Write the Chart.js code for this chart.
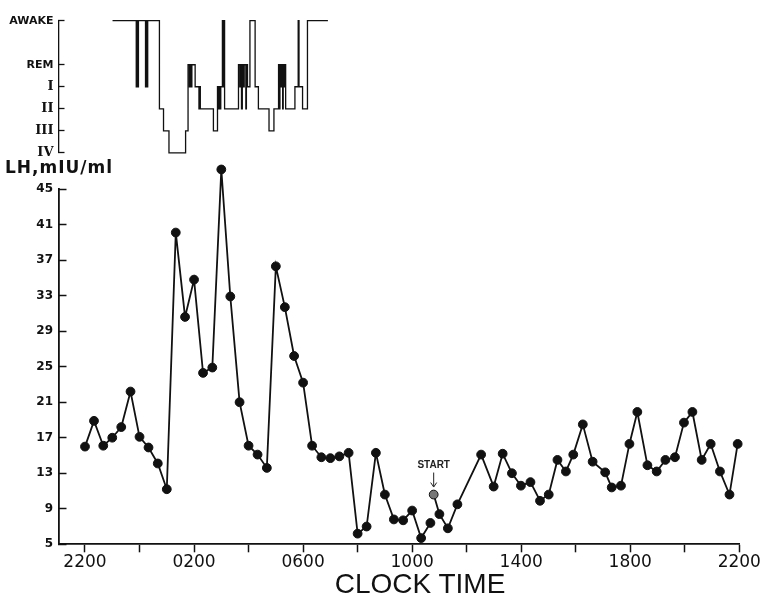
<!DOCTYPE html>
<html><head><meta charset="utf-8">
<script src="https://cdn.jsdelivr.net/npm/chart.js@4"></script>
<style>
html,body{margin:0;padding:0;background:#fff;}
#wrap{position:relative;width:762px;height:600px;}
canvas{position:absolute;left:0;top:0;}
.lbl{position:absolute;color:#111;white-space:nowrap;}
#ylab{left:5px;top:157px;font:bold 17px/20px "DejaVu Sans";letter-spacing:1px;}
#xlab{left:420px;top:570px;transform:translateX(-50%);font:28px/28px "Liberation Sans";}
</style></head>
<body><div id="wrap"><canvas id="c" width="762" height="600"></canvas>
<div id="ylab" class="lbl">LH,mIU/ml</div><div id="xlab" class="lbl">CLOCK TIME</div></div>
<script>
// ---- axis ticks / labels ----
const clockLabels = ['2200','0200','0600','1000','1400','1800','2200'];
const majorHours = [0,4,8,12,16,20,24];
const tickHours = [0,2,4,6,8,10,12,14,16,18,20,22,24];
const lhTicks = [5,9,13,17,21,25,29,33,37,41,45];
const stageValues = [0,1,2,3,4,6];
const stageLabels = ['IV','III','II','I','REM','AWAKE'];

// ---- LH series (hours after 2200) ----
const nightHours = [0,0.33,0.67,1,1.33,1.67,2,2.33,2.67,3,3.33,3.67,4,4.33,4.67,5,5.33,5.67,6,6.33,6.67,7,7.33,7.67,8,8.33,8.67,9,9.33,9.67,10,10.33,10.67,11,11.33,11.67,12,12.33,12.67];
const nightLH = [16.0,18.9,16.1,17.0,18.2,22.2,17.1,15.9,14.1,11.2,40.1,30.6,34.8,24.3,24.9,47.2,32.9,21.0,16.1,15.1,13.6,36.3,31.7,26.2,23.2,16.1,14.8,14.7,14.9,15.3,6.2,7.0,15.3,10.6,7.8,7.7,8.8,5.7,7.4];
const dayHours = [12.79,13.00,13.31,13.66,14.53,14.99,15.32,15.66,15.99,16.34,16.69,17.01,17.33,17.64,17.91,18.26,18.62,19.08,19.32,19.66,19.97,20.26,20.63,20.97,21.29,21.64,21.97,22.28,22.62,22.95,23.29,23.64,23.94];
const dayLH = [10.6,8.4,6.8,9.5,15.1,11.5,15.2,13.0,11.6,12.0,9.9,10.6,14.5,13.2,15.1,18.5,14.3,13.1,11.4,11.6,16.3,19.9,13.9,13.2,14.5,14.8,18.7,19.9,14.5,16.3,13.2,10.6,16.3];
const startLabel = 'START';

// ---- sleep stage (hypnogram): stage entered at each time ----
const hypnoHours = [1.01,1.88,1.91,1.93,1.96,2.22,2.25,2.27,2.30,2.73,2.88,3.08,3.69,3.78,3.83,3.86,3.90,3.92,4.04,4.18,4.20,4.23,4.71,4.86,4.89,4.92,4.95,4.98,5.04,5.06,5.09,5.12,5.63,5.68,5.70,5.74,5.77,5.81,5.84,5.90,5.92,5.96,6.05,6.24,6.36,6.75,6.93,7.10,7.13,7.15,7.19,7.21,7.25,7.27,7.31,7.33,7.36,7.70,7.82,7.85,7.98,8.16,8.91];
const hypnoStage = ['AWAKE','I','AWAKE','I','AWAKE','I','AWAKE','I','AWAKE','II','III','IV','III','REM','I','REM','I','REM','I','II','I','II','III','I','II','I','II','I','AWAKE','I','AWAKE','II','REM','I','REM','II','REM','I','REM','II','REM','I','AWAKE','I','II','III','II','REM','II','REM','I','REM','II','REM','I','REM','II','I','AWAKE','I','II','AWAKE','AWAKE'];

const pts = (xs, ys) => xs.map((x, i) => ({x: x, y: ys[i]}));
const ink = '#111';

const startNote = {
  id: 'startNote',
  afterDatasetsDraw(chart) {
    const x = chart.scales.x.getPixelForValue(dayHours[0]);
    const y = chart.scales.y.getPixelForValue(dayLH[0]);
    const ctx = chart.ctx;
    ctx.save();
    ctx.fillStyle = '#222'; ctx.strokeStyle = '#222';
    ctx.font = 'bold 10px "Liberation Sans"';
    ctx.textAlign = 'center'; ctx.textBaseline = 'middle';
    ctx.fillText(startLabel, x, y - 29);
    ctx.lineWidth = 1;
    ctx.beginPath(); ctx.moveTo(x, y - 22); ctx.lineTo(x, y - 8); ctx.stroke();
    ctx.beginPath(); ctx.moveTo(x - 3, y - 12); ctx.lineTo(x, y - 7.5); ctx.lineTo(x + 3, y - 12); ctx.stroke();
    ctx.restore();
  }
};

const lhStyle = {
  xAxisID: 'x', yAxisID: 'y', borderColor: ink, borderWidth: 1.8,
  pointRadius: 4.4, pointBorderColor: ink, pointBorderWidth: 1,
  tension: 0, fill: false, clip: false
};

new Chart(document.getElementById('c'), {
  type: 'line',
  data: {
    datasets: [
      {label: 'Sleep stage', data: pts(hypnoHours, hypnoStage.map(s => stageValues[stageLabels.indexOf(s)])),
       xAxisID: 'x', yAxisID: 'yH', stepped: true, borderColor: ink, borderWidth: 1.3,
       pointRadius: 0, fill: false, clip: false},
      Object.assign({label: 'LH night', data: pts(nightHours, nightLH), pointBackgroundColor: ink}, lhStyle),
      Object.assign({label: 'LH day', data: pts(dayHours, dayLH),
        pointBackgroundColor: ctx => ctx.dataIndex === 0 ? '#777' : ink}, lhStyle)
    ]
  },
  options: {
    responsive: false, animation: false,
    layout: {padding: {top: 13.3, right: 22.7, left: 0, bottom: 0}},
    plugins: {legend: {display: false}, tooltip: {enabled: false}},
    scales: {
      x: {type: 'linear', position: 'bottom', min: -0.972, max: 24,
        afterBuildTicks: s => { s.ticks = tickHours.map(v => ({value: v})); },
        afterFit: s => { s.height = 55.7; },
        grid: {drawOnChartArea: false, color: ink, tickLength: 8, tickWidth: 1.5},
        border: {color: ink, width: 1.8},
        ticks: {autoSkip: false, maxRotation: 0, minRotation: 0, padding: 0, color: ink,
          font: {family: 'DejaVu Sans', size: 17},
          callback: v => { const i = majorHours.indexOf(v); return i >= 0 ? clockLabels[i] : ''; }}
      },
      yH: {type: 'linear', position: 'left', stack: 'left', stackWeight: 134, weight: 3, min: 0, max: 6,
        afterBuildTicks: s => { s.ticks = stageValues.map(v => ({value: v})); },
        afterFit: s => { s.width = 58.5; },
        grid: {drawOnChartArea: false, color: ink, tickLength: -6, tickWidth: 1.3},
        border: {color: ink, width: 1.3},
        ticks: {padding: 11, color: ink, autoSkip: false,
          font: ctx => (ctx.tick && ctx.tick.value < 4)
            ? {family: 'DejaVu Serif', weight: 'bold', size: 13}
            : {family: 'DejaVu Sans', weight: 'bold', size: 11},
          callback: v => stageLabels[stageValues.indexOf(v)]}
      },
      yGap: {type: 'linear', position: 'left', stack: 'left', stackWeight: 36.7, weight: 2, display: false},
      y: {type: 'linear', position: 'left', stack: 'left', stackWeight: 360.3, weight: 1, min: 5, max: 45,
        afterBuildTicks: s => { s.ticks = lhTicks.map(v => ({value: v})); },
        afterFit: s => { s.width = 58.5; },
        grid: {drawOnChartArea: false, color: ink, tickLength: -8, tickWidth: 1.5},
        border: {color: ink, width: 1.8},
        ticks: {padding: 13.5, color: ink, autoSkip: false,
          font: {family: 'DejaVu Sans', weight: 'bold', size: 12}}
      }
    }
  },
  plugins: [startNote]
});
</script></body></html>
